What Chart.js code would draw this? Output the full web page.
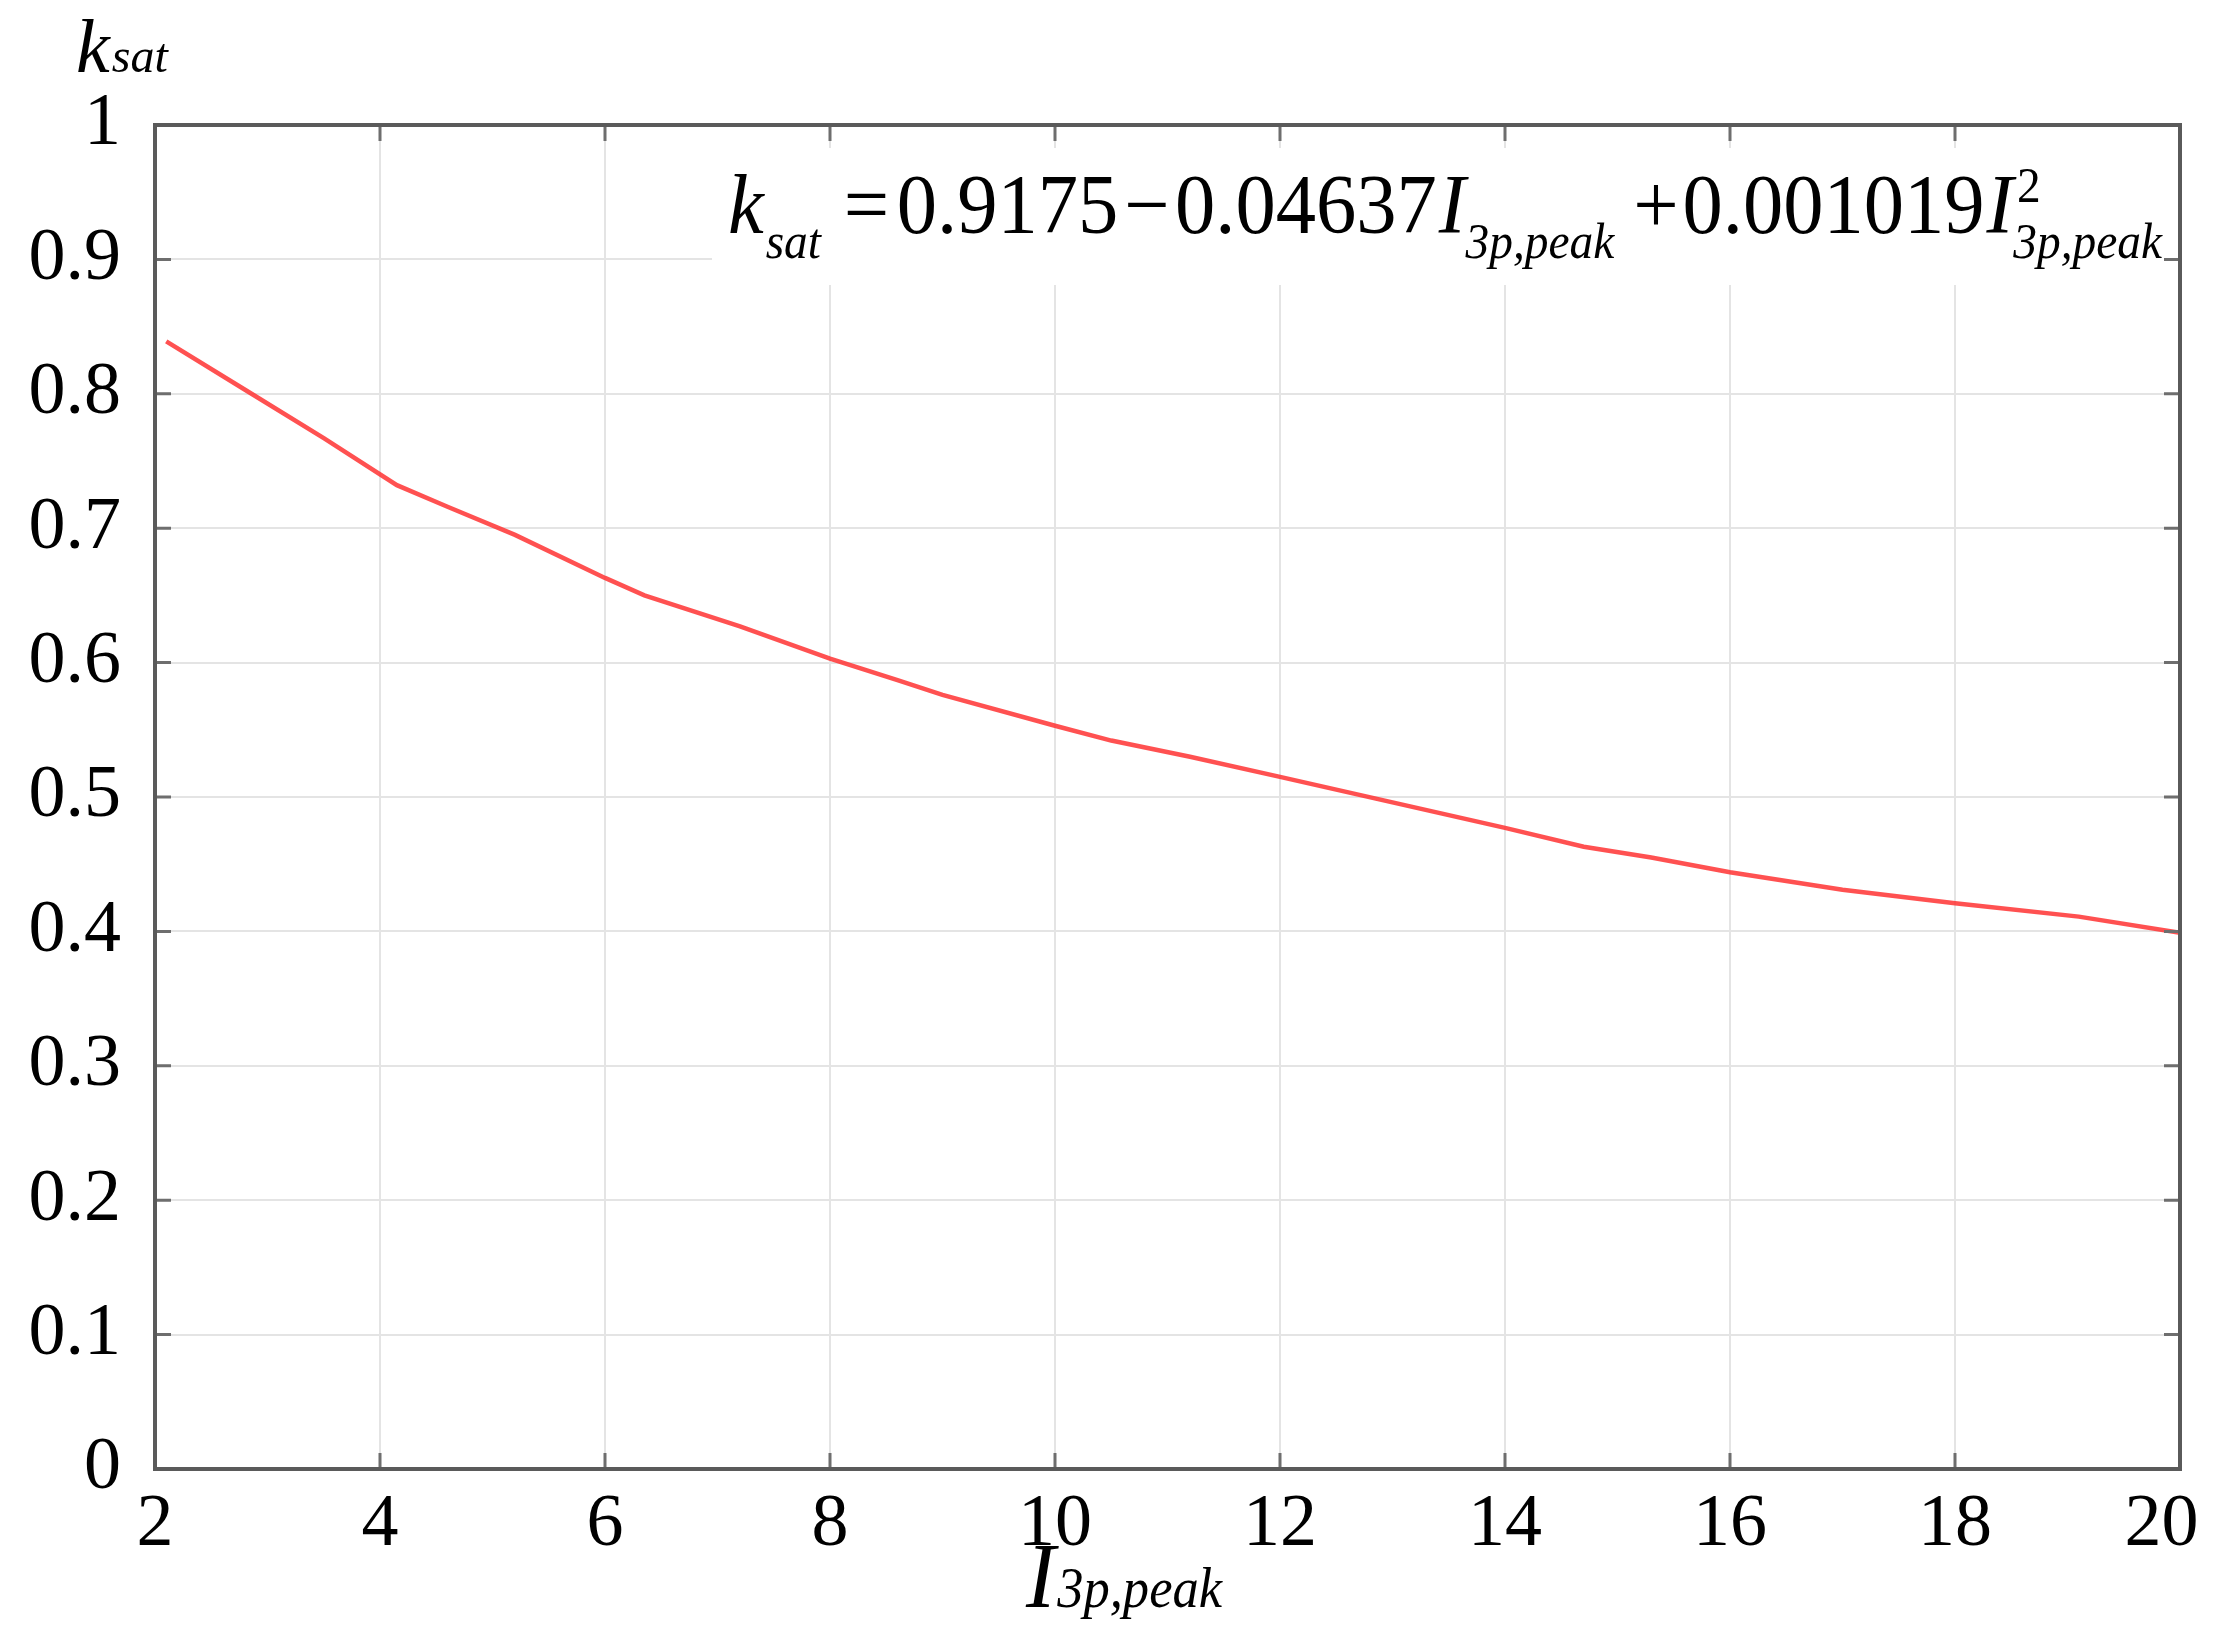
<!DOCTYPE html>
<html>
<head>
<meta charset="utf-8">
<script src="https://cdn.jsdelivr.net/npm/chart.js@4/dist/chart.umd.min.js"></script>
<style>
  html, body { margin: 0; padding: 0; background: #ffffff; }
  #wrap { width: 2215px; height: 1640px; }
</style>
</head>
<body>
<div id="wrap"><canvas id="c" width="2215" height="1640"></canvas></div>
<script>
// ---- data ----
const currentPeak = [2.1, 2.8, 3.5, 4.15, 4.6, 5.2, 6.0, 6.35, 7.2, 8.0, 8.6, 9.0, 10.0, 10.5, 11.2, 12.0, 13.0, 14.0, 14.7, 15.3, 16.0, 17.0, 18.0, 19.1, 20.0];
const kSat = [0.839, 0.803, 0.767, 0.732, 0.716, 0.695, 0.663, 0.650, 0.627, 0.603, 0.587, 0.576, 0.553, 0.542, 0.530, 0.515, 0.496, 0.477, 0.463, 0.455, 0.444, 0.431, 0.421, 0.411, 0.399];
const xTickValues = [2, 4, 6, 8, 10, 12, 14, 16, 18, 20];
const xTickLabels = ['2', '4', '6', '8', '10', '12', '14', '16', '18', '20'];
const yTickValues = [0, 0.1, 0.2, 0.3, 0.4, 0.5, 0.6, 0.7, 0.8, 0.9, 1];
const yTickLabels = ['0', '0.1', '0.2', '0.3', '0.4', '0.5', '0.6', '0.7', '0.8', '0.9', '1'];
const xTitleMain = 'I';
const xTitleSub = '3p,peak';
const yTitleMain = 'k';
const yTitleSub = 'sat';

const SERIF = '"Liberation Serif", "DejaVu Serif", serif';

function drawRich(ctx, segs, x0, targetWidth) {
  let w = 0;
  for (const s of segs) {
    ctx.font = s.font;
    if (!s.noAdvance) w += ctx.measureText(s.t).width + (s.gap || 0);
  }
  const sx = targetWidth ? targetWidth / w : 1;
  ctx.save();
  ctx.translate(x0, 0);
  ctx.scale(sx, 1);
  let cx = 0;
  for (const s of segs) {
    ctx.font = s.font;
    ctx.fillText(s.t, cx + (s.dx || 0), s.y);
    if (!s.noAdvance) cx += ctx.measureText(s.t).width + (s.gap || 0);
  }
  ctx.restore();
}

const framePlugin = {
  id: 'frame',
  beforeDatasetsDraw(chart) {
    const ctx = chart.ctx;
    ctx.save();
    ctx.fillStyle = '#ffffff';
    ctx.fillRect(712, 148, 1466, 137);
    ctx.restore();
  },
  afterDraw(chart) {
    const ctx = chart.ctx;
    const a = chart.chartArea;
    const xs = chart.scales.x, ys = chart.scales.y;
    ctx.save();
    ctx.strokeStyle = '#6e6e6e';
    ctx.lineWidth = 3;
    const L = 16;
    ctx.beginPath();
    for (const v of xTickValues) {
      const px = xs.getPixelForValue(v);
      ctx.moveTo(px, a.bottom); ctx.lineTo(px, a.bottom - L);
      ctx.moveTo(px, a.top); ctx.lineTo(px, a.top + L);
    }
    for (const v of yTickValues) {
      const py = ys.getPixelForValue(v);
      ctx.moveTo(a.left, py); ctx.lineTo(a.left + L, py);
      ctx.moveTo(a.right, py); ctx.lineTo(a.right - L, py);
    }
    ctx.stroke();
    ctx.strokeStyle = '#5a5a5a';
    ctx.lineWidth = 4;
    ctx.strokeRect(a.left, a.top, a.right - a.left, a.bottom - a.top);

    ctx.fillStyle = '#000000';
    ctx.textBaseline = 'alphabetic';
    ctx.textAlign = 'left';
    drawRich(ctx, [
      { t: yTitleMain, font: 'italic 76px ' + SERIF, y: 72, gap: 2 },
      { t: yTitleSub, font: 'italic 48px ' + SERIF, y: 72 }
    ], 76, 0);
    drawRich(ctx, [
      { t: xTitleMain, font: 'italic 94px ' + SERIF, y: 1607, gap: 2 },
      { t: xTitleSub, font: 'italic 56px ' + SERIF, y: 1607 }
    ], 1026, 196);

    const big = '85px ' + SERIF;
    const bigI = 'italic 85px ' + SERIF;
    const small = 'italic 50px ' + SERIF;
    const small2 = '50px ' + SERIF;
    drawRich(ctx, [
      { t: 'k', font: bigI, y: 233, gap: 2 },
      { t: 'sat', font: small, y: 258, gap: 24 },
      { t: '=', font: big, y: 233, gap: 8 },
      { t: '0.9175', font: big, y: 233, gap: 6 },
      { t: '\u2212', font: big, y: 233, gap: 6 },
      { t: '0.04637', font: big, y: 233, gap: 2 },
      { t: 'I', font: bigI, y: 233, gap: 0 },
      { t: '3p,peak', font: small, y: 258, gap: 20 },
      { t: '+', font: big, y: 233, gap: 4 },
      { t: '0.001019', font: big, y: 233, gap: 2 },
      { t: 'I', font: bigI, y: 233, gap: 0 },
      { t: '2', font: small2, y: 202, noAdvance: true, dx: 4 },
      { t: '3p,peak', font: small, y: 258 }
    ], 728, 1434);
    ctx.restore();
  }
};

const points = currentPeak.map((x, i) => ({ x: x, y: kSat[i] }));

new Chart(document.getElementById('c'), {
  type: 'line',
  data: {
    datasets: [{
      data: points,
      borderColor: 'rgba(255, 50, 50, 0.85)',
      borderWidth: 4.5,
      pointRadius: 0,
      tension: 0,
      fill: false
    }]
  },
  options: {
    responsive: false,
    devicePixelRatio: 1,
    animation: false,
    layout: { padding: { top: 125, right: 35, left: 0, bottom: 0 } },
    plugins: { legend: { display: false }, tooltip: { enabled: false } },
    scales: {
      x: {
        type: 'linear',
        min: 2, max: 20,
        afterBuildTicks(scale) { scale.ticks = xTickValues.map(v => ({ value: v })); },
        afterFit(scale) { scale.height = 171; scale.paddingLeft = 0; scale.paddingRight = 0; },
        grid: { color: '#e4e4e4', lineWidth: 2, drawTicks: false },
        border: { display: true, color: '#5a5a5a', width: 4 },
        ticks: {
          font: { family: SERIF, size: 74 },
          color: '#000000',
          padding: 12,
          maxRotation: 0,
          autoSkip: false,
          callback: (v, i) => (i === xTickLabels.length - 1 ? xTickLabels[i] + '\u2002' : xTickLabels[i])
        }
      },
      y: {
        type: 'linear',
        min: 0, max: 1,
        afterBuildTicks(scale) { scale.ticks = yTickValues.map(v => ({ value: v })); },
        afterFit(scale) { scale.width = 155; scale.paddingTop = 0; scale.paddingBottom = 0; },
        grid: { color: '#e4e4e4', lineWidth: 2, drawTicks: false },
        border: { display: true, color: '#5a5a5a', width: 4 },
        ticks: {
          font: { family: SERIF, size: 74 },
          color: '#000000',
          padding: 34,
          autoSkip: false,
          callback: (v, i) => yTickLabels[i]
        }
      }
    }
  },
  plugins: [framePlugin]
});
</script>
</body>
</html>
